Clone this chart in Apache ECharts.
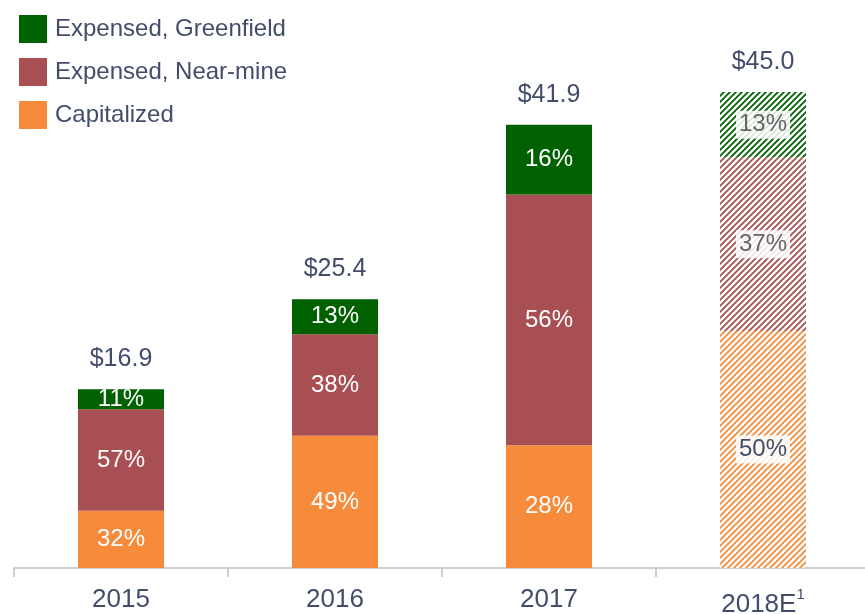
<!DOCTYPE html>
<html>
<head>
<meta charset="utf-8">
<script src="https://cdn.jsdelivr.net/npm/echarts@6/dist/echarts.min.js"></script>
<style>
  html, body { margin: 0; padding: 0; background: #fff; }
  #chart { width: 865px; height: 614px; }
</style>
</head>
<body>
<div id="chart"></div>
<script>
const years = ['2015', '2016', '2017', '2018E'];
const totals = [16.9, 25.4, 41.9, 45.0];
const totalLabels = ['$16.9', '$25.4', '$41.9', '$45.0'];

// $ amounts of each segment
const capitalized = [5.4, 12.5, 11.6, 22.4];
const nearMine = [9.6, 9.6, 23.7, 16.4];
const greenfield = [1.9, 3.3, 6.6, 6.2];

const capitalizedPct = ['32%', '49%', '28%', '50%'];
const nearMinePct = ['57%', '38%', '56%', '37%'];
const greenfieldPct = ['11%', '13%', '16%', '13%'];

const textColor = '#434d6b';
const fontFamily = '"Liberation Sans", Arial, sans-serif';

const colors = {
  green: '#006100',
  red: '#a84f53',
  orange: '#f68b3b'
};

// diagonal "////" hatch used for the estimate year
function hatch(color) {
  const s = 6;
  const c = document.createElement('canvas');
  c.width = s;
  c.height = s;
  const ctx = c.getContext('2d');
  ctx.fillStyle = '#fff';
  ctx.fillRect(0, 0, s, s);
  ctx.strokeStyle = color;
  ctx.lineWidth = 1.8;
  ctx.beginPath();
  ctx.moveTo(-1, s + 1); ctx.lineTo(s + 1, -1);
  ctx.moveTo(-1, 1); ctx.lineTo(1, -1);
  ctx.moveTo(s - 1, s + 1); ctx.lineTo(s + 1, s - 1);
  ctx.stroke();
  return { image: c, repeat: 'repeat' };
}

function segData(values, pcts, color, estLabelColor) {
  return values.map((v, i) => {
    const item = { value: v, pct: pcts[i] };
    if (years[i].endsWith('E')) {
      item.itemStyle = { color: hatch(color) };
      item.label = {
        color: estLabelColor,
        backgroundColor: 'rgba(255,255,255,0.85)',
        padding: [3, 3, 1, 3]
      };
    }
    return item;
  });
}

function barSeries(name, values, pcts, color, estLabelColor) {
  return {
    name: name,
    type: 'bar',
    stack: 'total',
    barWidth: 86,
    itemStyle: { color: color },
    label: {
      show: true,
      position: 'inside',
      color: '#fff',
      fontSize: 24,
      fontFamily: fontFamily,
      formatter: p => p.data.pct
    },
    data: segData(values, pcts, color, estLabelColor)
  };
}

const chart = echarts.init(document.getElementById('chart'), null, { renderer: 'canvas' });

chart.setOption({
  animation: false,
  textStyle: { fontFamily: fontFamily },
  legend: {
    orient: 'vertical',
    left: 14,
    top: 10,
    itemWidth: 28,
    itemHeight: 28,
    itemGap: 15,
    icon: 'rect',
    data: ['Expensed, Greenfield', 'Expensed, Near-mine', 'Capitalized'],
    textStyle: { color: textColor, fontSize: 24, fontFamily: fontFamily, padding: [2, 0, 0, 3] }
  },
  grid: { left: 14, top: 39, width: 856, height: 529, outerBoundsMode: 'none', containLabel: false },
  xAxis: {
    type: 'category',
    data: years,
    axisLine: { lineStyle: { color: '#bfbfbf', width: 1.5 } },
    axisTick: { show: true, length: 9, lineStyle: { color: '#bfbfbf', width: 1.5 } },
    axisLabel: {
      margin: 19,
      color: textColor,
      fontSize: 26,
      fontFamily: fontFamily,
      formatter: v => v.endsWith('E') ? v + '{sup|1}' : v,
      rich: {
        sup: { fontSize: 15, color: textColor, fontFamily: fontFamily, verticalAlign: 'top', padding: [0, 0, 20, 0] }
      }
    }
  },
  yAxis: {
    type: 'value',
    min: 0,
    max: 50,
    show: false,
    splitLine: { show: false }
  },
  series: [
    barSeries('Capitalized', capitalized, capitalizedPct, colors.orange, textColor),
    barSeries('Expensed, Near-mine', nearMine, nearMinePct, colors.red, '#666'),
    barSeries('Expensed, Greenfield', greenfield, greenfieldPct, colors.green, '#666'),
    {
      name: 'Total',
      type: 'scatter',
      symbolSize: 1,
      silent: true,
      itemStyle: { color: 'rgba(0,0,0,0)', opacity: 1 },
      label: {
        show: true,
        position: 'top',
        distance: 17,
        color: textColor,
        fontSize: 25,
        fontFamily: fontFamily,
        formatter: p => totalLabels[p.dataIndex]
      },
      data: totals
    }
  ]
});
</script>
</body>
</html>
